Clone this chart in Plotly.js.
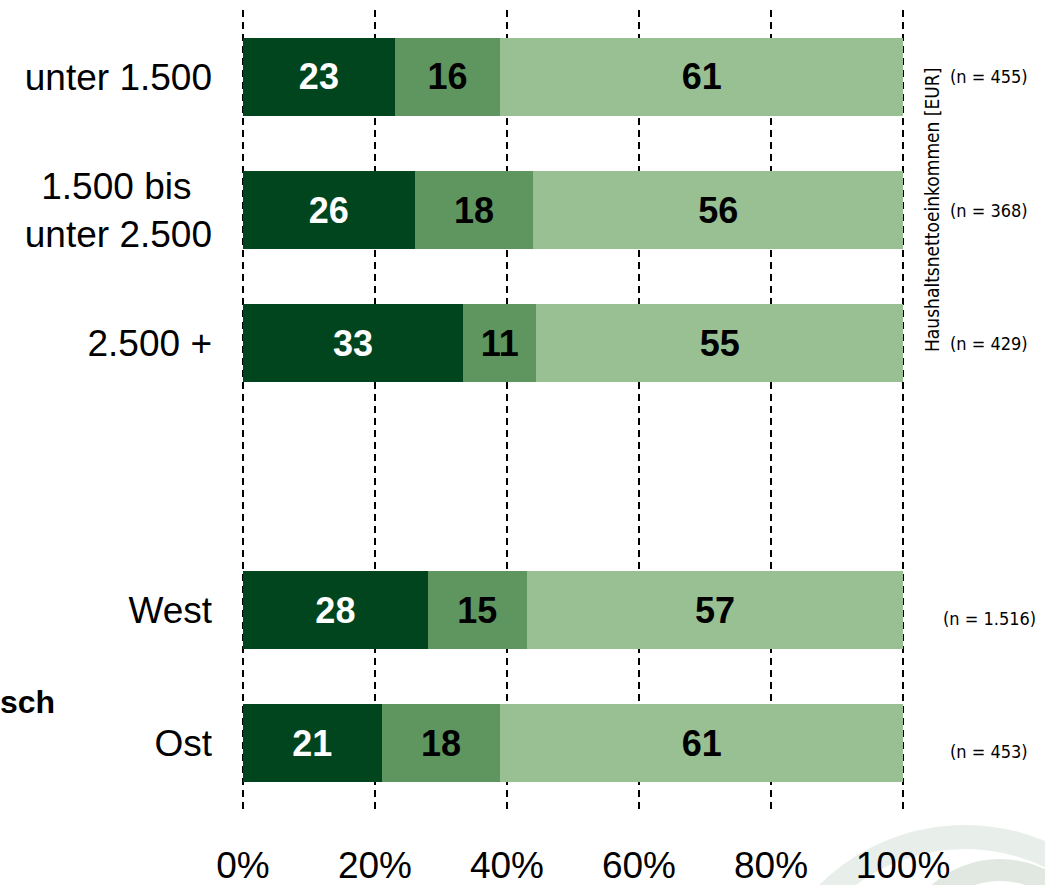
<!DOCTYPE html>
<html>
<head>
<meta charset="utf-8">
<script src="https://cdn.plot.ly/plotly-3.0.1.min.js"></script>
<style>html,body{margin:0;padding:0;background:#fff;}#chart{width:1045px;height:885px;}</style>
</head>
<body>
<div id="chart"></div>
<script>
// ---- data ----
const incomeCategories = ["unter 1.500", "1.500 bis\u00A0\u00A0<br>unter 2.500", "2.500 +"];
const regionCategories = ["West", "Ost"];
const categories = incomeCategories.concat(regionCategories);
const share1 = [23, 26, 33, 28, 21];
const share2 = [16, 18, 11, 15, 18];
const share3 = [61, 56, 55, 57, 61];
const nLabels = ["(n = 455)", "(n = 368)", "(n = 429)", "(n = 1.516)", "(n = 453)"];
const xTickVals = [0, 20, 40, 60, 80, 100];
const xTickText = ["0%", "20%", "40%", "60%", "80%", "100%"];
const groupTitle = "Haushaltsnettoeinkommen [EUR]";
const sideLabel = "sch";

const colors = ["#00451E", "#5F9660", "#98C093"];
const textColors = ["#ffffff", "#000000", "#000000"];
const series = [share1, share2, share3];
const narrow = "Liberation Sans Narrow, DejaVu Sans Condensed, Arial Narrow, sans-serif";
const arial = "Liberation Sans, Arial, sans-serif";

const traces = series.map((vals, i) => ({
  type: "bar",
  orientation: "h",
  y: categories,
  x: vals,
  text: vals.map(String),
  texttemplate: "%{text}",
  textposition: "inside",
  insidetextanchor: "middle",
  constraintext: "none",
  insidetextfont: {family: arial, size: 36, color: textColors[i], weight: "bold"},
  marker: {color: colors[i], line: {width: 0}},
  hoverinfo: "skip",
  showlegend: false
}));

const spacer = " ";
const catOrder = incomeCategories.concat([spacer], regionCategories);

// plot area: 241..905 px wide covering range -0.3..100.3
const L = 241, R = 905, T = 10, B = 810;
function px2paper(px, py) { return [(px - L) / (R - L), (B - py) / (B - T)]; }

const annotations = categories.map((c, i) => ({
  xref: "paper", yref: "y",
  x: px2paper(989, 0)[0], y: c,
  yshift: i >= 3 ? -8 : 0,
  text: nLabels[i],
  showarrow: false,
  xanchor: "center", yanchor: "middle",
  font: {family: narrow, size: 18, color: "#000"}
}));
annotations.push({
  xref: "paper", yref: "paper",
  x: px2paper(932, 0)[0], y: px2paper(0, 210)[1],
  text: groupTitle, textangle: -90, showarrow: false,
  xanchor: "center", yanchor: "middle",
  font: {family: narrow, size: 19, color: "#000"}
});
annotations.push({
  xref: "paper", yref: "paper",
  x: px2paper(57, 0)[0], y: px2paper(0, 702)[1],
  text: "<b>" + sideLabel + "</b>", showarrow: false,
  xanchor: "right", yanchor: "middle",
  font: {family: arial, size: 32, color: "#000"}
});

function ring(cx, cy, r, w, col) {
  const a = px2paper(cx - r, cy + r), b = px2paper(cx + r, cy - r);
  return {type: "circle", xref: "paper", yref: "paper", layer: "below",
    x0: a[0], y0: a[1], x1: b[0], y1: b[1],
    line: {color: col, width: w}, fillcolor: "rgba(0,0,0,0)"};
}

const layout = {
  width: 1045, height: 885,
  margin: {l: L, r: 1045 - R, t: T, b: 885 - B, pad: 0},
  paper_bgcolor: "#ffffff", plot_bgcolor: "rgba(0,0,0,0)",
  barmode: "stack", barnorm: "percent", bargap: 0.415,
  font: {family: arial, color: "#000"},
  xaxis: {
    range: [-0.3, 100.3], tickvals: xTickVals, ticktext: xTickText,
    showgrid: true, gridcolor: "#000", gridwidth: 2.5, griddash: "7px,5px",
    zeroline: false, showline: false, ticks: "",
    ticklabelstandoff: 30, automargin: false,
    tickfont: {size: 37, family: arial, color: "#000"},
    fixedrange: true
  },
  yaxis: {
    type: "category", categoryorder: "array", categoryarray: catOrder,
    autorange: "reversed", range: [5.5, -0.5],
    showgrid: false, zeroline: false, showline: false, ticks: "",
    ticklabelstandoff: 28, automargin: false,
    tickfont: {size: 37, family: arial, color: "#000"},
    fixedrange: true
  },
  annotations: annotations,
  shapes: [
    ring(965, 1032, 195, 24, "#E8EEE9"),
    ring(1000, 962, 92, 22, "#E1E8E2")
  ]
};

Plotly.newPlot("chart", traces, layout, {displayModeBar: false, staticPlot: true});
</script>
</body>
</html>
